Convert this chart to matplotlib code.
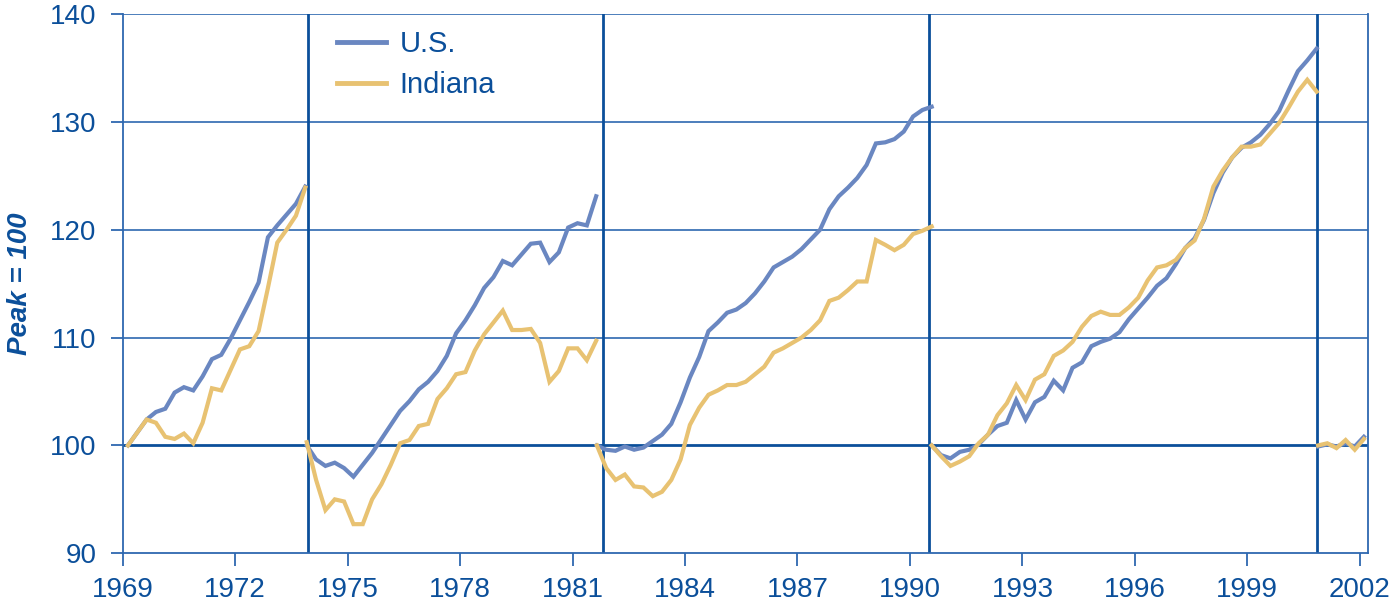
import numpy as np
import matplotlib
matplotlib.use("Agg")
import matplotlib.pyplot as plt

plt.rcParams['font.family'] = ['Liberation Sans', 'DejaVu Sans']

# ---------------- data (index, peak = 100), quarterly after each business-cycle peak
seg_start = [1969.14, 1973.91, 1981.65, 1990.58, 2000.89]   # first quarter of each segment (years)
seg_end   = [1973.87, 1981.63, 1990.58, 2000.85, 2002.11]   # last quarter of each segment (years)

us_1 = [100, 101.2, 102.4, 103.1, 103.4, 104.9, 105.4, 105.1, 106.4, 108.0,
        108.4, 109.9, 111.6, 113.3, 115.1, 119.3, 120.4, 121.4, 122.4, 124.0]
in_1 = [100, 101.2, 102.4, 102.1, 100.8, 100.6, 101.1, 100.2, 102.1, 105.3,
        105.1, 107.0, 108.9, 109.2, 110.6, 114.6, 118.8, 120.0, 121.3, 123.9]

us_2 = [100, 98.7, 98.1, 98.4, 97.9, 97.1, 98.2, 99.3, 100.6, 101.9,
        103.2, 104.1, 105.2, 105.9, 106.9, 108.3, 110.4, 111.6, 113.0, 114.6,
        115.6, 117.1, 116.7, 117.7, 118.7, 118.8, 117.0, 117.9, 120.2, 120.6,
        120.4, 123.1]
in_2 = [100.3, 96.8, 94.0, 95.0, 94.8, 92.7, 92.7, 95.0, 96.4, 98.2,
        100.2, 100.5, 101.8, 102.0, 104.3, 105.3, 106.6, 106.8, 108.8, 110.3,
        111.4, 112.5, 110.7, 110.7, 110.8, 109.5, 105.9, 106.9, 109.0, 109.0,
        107.9, 109.7]

us_3 = [100, 99.6, 99.5, 99.9, 99.6, 99.8, 100.4, 101.0, 102.0, 104.0,
        106.3, 108.2, 110.6, 111.4, 112.3, 112.6, 113.2, 114.1, 115.2, 116.5,
        117.0, 117.5, 118.2, 119.1, 120.0, 121.9, 123.1, 123.9, 124.8, 126.0,
        128.0, 128.1, 128.4, 129.1, 130.5, 131.1, 131.4]
in_3 = [100, 97.9, 96.8, 97.3, 96.2, 96.1, 95.3, 95.7, 96.8, 98.7,
        101.9, 103.5, 104.7, 105.1, 105.6, 105.6, 105.9, 106.6, 107.3, 108.6,
        109.0, 109.5, 110.0, 110.7, 111.6, 113.4, 113.7, 114.4, 115.2, 115.2,
        119.05, 118.6, 118.1, 118.6, 119.6, 119.9, 120.3]

us_4 = [100, 99.1, 98.8, 99.4, 99.6, 100.1, 101.0, 101.8, 102.1, 104.2,
        102.4, 104.0, 104.5, 106.0, 105.1, 107.2, 107.7, 109.2, 109.6, 109.9,
        110.5, 111.7, 112.7, 113.7, 114.8, 115.5, 116.8, 118.3, 119.2, 120.9,
        123.4, 125.3, 126.7, 127.6, 128.1, 128.8, 129.8, 131.0, 132.9, 134.7,
        135.7, 136.8]
in_4 = [100, 99.0, 98.1, 98.5, 99.0, 100.2, 101.0, 102.8, 103.9, 105.6,
        104.2, 106.1, 106.6, 108.3, 108.8, 109.6, 111.0, 112.0, 112.4, 112.1,
        112.1, 112.8, 113.7, 115.3, 116.5, 116.7, 117.2, 118.3, 119.0, 121.0,
        124.0, 125.5, 126.7, 127.7, 127.7, 127.9, 128.9, 129.9, 131.3, 132.8,
        133.9, 132.8]

us_5 = [99.9, 100.1, 99.9, 100.2, 99.9, 100.8]
in_5 = [100, 100.2, 99.75, 100.5, 99.6, 100.6]

us_segments = [us_1, us_2, us_3, us_4, us_5]
in_segments = [in_1, in_2, in_3, in_4, in_5]

peaks = [1973.93, 1981.80, 1990.52, 2000.86]          # recession-peak markers
xticks = [1969, 1972, 1975, 1978, 1981, 1984, 1987, 1990, 1993, 1996, 1999, 2002]
yticks = [90, 100, 110, 120, 130, 140]
series_names = ["U.S.", "Indiana"]

# ---------------- style
DARK = "#0b4f9a"
GRID = "#2e68b0"
US_C = "#6a87c1"
IN_C = "#e8c272"

fig = plt.figure(figsize=(13.99, 6.06), dpi=100)
ax = fig.add_axes([0.0877, 0.087, 0.8899, 0.8899])

ax.set_xlim(1969, 2002.21)
ax.set_ylim(90, 140)

for y in yticks[2:]:
    ax.axhline(y, color=GRID, lw=1.2, zorder=1)
ax.axhline(100, color=DARK, lw=2.0, zorder=1)
for p in peaks:
    ax.axvline(p, color=DARK, lw=2.0, zorder=1)

for i, (us, ind) in enumerate(zip(us_segments, in_segments)):
    xs = np.linspace(seg_start[i], seg_end[i], len(us))
    ax.plot(xs, us, color=US_C, lw=3.0, solid_joinstyle='miter', zorder=3,
            label=series_names[0] if i == 0 else None)
    ax.plot(xs, ind, color=IN_C, lw=3.0, solid_joinstyle='miter', zorder=4,
            label=series_names[1] if i == 0 else None)

ax.set_xticks(xticks)
ax.set_yticks(yticks)
ax.tick_params(axis='both', direction='out', length=9, width=1.3, color=GRID,
               labelcolor=DARK, labelsize=20)
ax.tick_params(axis='x', pad=8)
ax.tick_params(axis='y', pad=10)

for s in ['top']:
    ax.spines[s].set_visible(False)
for s in ['left', 'bottom', 'right']:
    ax.spines[s].set_color(GRID)
    ax.spines[s].set_linewidth(1.3)

ax.set_ylabel("Peak = 100", fontsize=20, fontweight='bold', fontstyle='italic',
              color=DARK, labelpad=12)

leg = ax.legend(loc='upper left', bbox_to_anchor=(0.172, 0.97), frameon=False,
                fontsize=21, handlelength=1.7, handletextpad=0.45,
                borderaxespad=0, borderpad=0, labelspacing=0.45)
for t in leg.get_texts():
    t.set_color(DARK)
for h in leg.get_lines():
    h.set_linewidth(3.5)

fig.savefig("out.png", dpi=100)
